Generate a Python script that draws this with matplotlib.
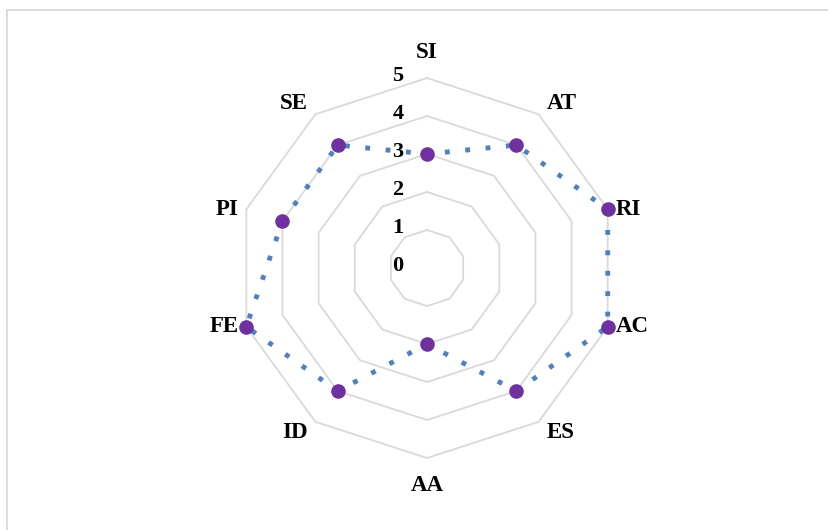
import numpy as np
import matplotlib.pyplot as plt
from matplotlib.patches import Rectangle

categories = ['SI', 'AT', 'RI', 'AC', 'ES', 'AA', 'ID', 'FE', 'PI', 'SE']
values = [3, 4, 5, 5, 4, 2, 4, 5, 4, 4]
rings = [1, 2, 3, 4, 5]
tick_labels = ['0', '1', '2', '3', '4', '5']

plt.rcParams['font.family'] = ['Liberation Serif', 'DejaVu Serif']

fig = plt.figure(figsize=(8.29, 5.30), dpi=100)
fig.patch.set_facecolor('white')

# outer chart border (cut at right/bottom like the reference)
fig.patches.append(Rectangle((7 / 829, -0.1), 1.2, 1 - 10 / 530 + 0.1,
                             transform=fig.transFigure, fill=False,
                             edgecolor='#d9d9d9', linewidth=1.3))

ax = fig.add_axes([0.2859, 0.1358, 0.4584, 0.717], projection='polar')
ax.set_theta_zero_location('N')
ax.set_theta_direction(-1)
ax.set_facecolor('none')
ax.grid(False)
ax.spines['polar'].set_visible(False)
ax.set_xticks([])
ax.set_yticks([])
ax.set_ylim(0, 5)

n = len(categories)
theta = np.linspace(0, 2 * np.pi, n, endpoint=False)
theta_c = np.append(theta, theta[0])

for r in rings:
    ax.plot(theta_c, [r] * (n + 1), color='#d9d9d9', linewidth=1.3,
            zorder=1, clip_on=False)

vals_c = values + values[:1]
ax.plot(theta_c, vals_c, color='#4f81bd', linewidth=3.5,
        linestyle=(0.5, (1.0, 3.2)), zorder=2, clip_on=False)
ax.plot(theta, values, 'o', color='#7030a0', markersize=10.5,
        markeredgewidth=0, zorder=3, clip_on=False)

# category labels anchored at the outer ring vertex
for t, lab in zip(theta, categories):
    s, c = np.sin(t), np.cos(t)
    if abs(s) < 0.1:
        ha = 'center'
        dx, dy = 0, (15 if c > 0 else -17)
        va = 'bottom' if c > 0 else 'top'
    else:
        ha = 'left' if s > 0 else 'right'
        dx, dy = (8 if s > 0 else -8), 0
        if abs(c) < 0.5:
            va = 'center'
        else:
            va = 'bottom' if c > 0 else 'top'
    ax.annotate(lab, xy=(t, 5), xytext=(dx, dy), textcoords='offset pixels',
                ha=ha, va=va, fontsize=16.5, fontweight='bold',
                color='black', annotation_clip=False)

for i, lab in enumerate(tick_labels):
    ax.annotate(lab, xy=(0, i), xytext=(-29, 2), textcoords='offset pixels',
                ha='center', va='center', fontsize=16, fontweight='bold',
                color='black', annotation_clip=False)

fig.savefig('out.png', dpi=100)
